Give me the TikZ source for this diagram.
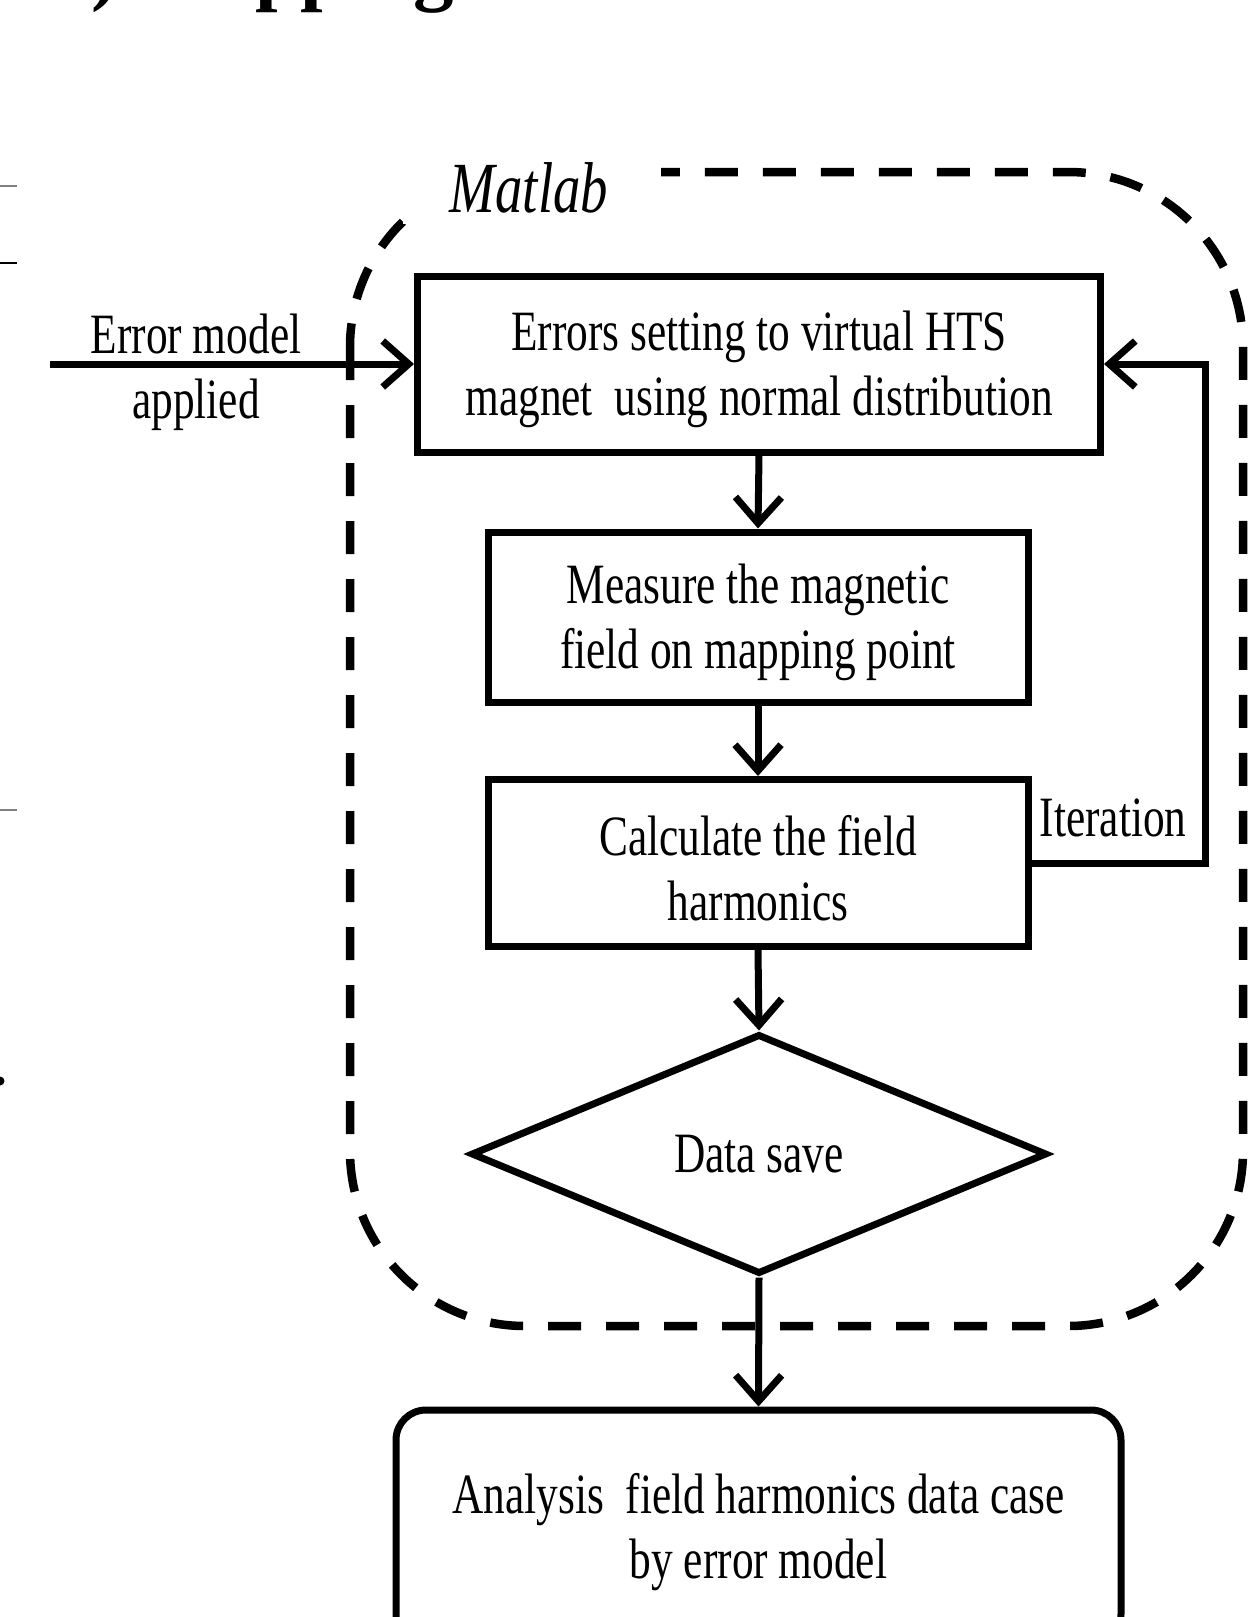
\documentclass[tikz,border=0pt]{standalone}
\usepackage{fontspec}
\setmainfont{Liberation Serif}[FakeStretch=0.76]
\newfontfamily\fragfont{Liberation Serif}
\usetikzlibrary{arrows.meta,shapes.geometric}
\begin{document}
\begin{tikzpicture}[x=1pt,y=-1pt,
  txt/.style={font=\fontsize{57}{65}\selectfont, align=center, inner sep=0pt},
  procbox/.style={draw, line width=7pt, inner sep=0pt},
  boxtext/.style={label={[txt, yshift=-5pt]center:{#1}}},
  flow/.style={line width=7pt, -{Straight Barb[length=26pt,width=46pt]}},
  frame/.style={line width=8.5pt, dash pattern=on 33pt off 25pt, rounded corners=175pt},
  frag/.style={line width=2.5pt, gray}]
\useasboundingbox (0,0) rectangle (1248,1617);
\clip (0,0) rectangle (1248,1617);

% fragment of a cropped heading and table at the edges
\node[anchor=base west, inner sep=0pt, font=\fragfont\bfseries\fontsize{81}{90}\selectfont] (head) at (91,-4.6) {) Mapping};
\draw[frag] (0,186) -- (17,186);
\draw[line width=2pt] (0,263) -- (17,263);
\draw[frag] (0,810) -- (17,810);
\fill (0,1081) circle (4.5pt);

% Matlab frame
\draw[frame] (350,172) rectangle (1243,1326);
\node[fill=white, minimum width=258pt, minimum height=72pt, inner sep=0pt,
      font=\itshape\fontsize{72}{80}\selectfont] (matlab) at (532,188) {};
\node[font=\itshape\fontsize{72}{80}\selectfont, inner sep=0pt] (matlabtxt) at (529,188) {Matlab};

% process nodes
\node[procbox, minimum width=683pt, minimum height=176pt,
  boxtext={Errors setting to virtual HTS\\magnet~ using normal distribution}] (b1) at (759,364) {};
\node[procbox, minimum width=540pt, minimum height=170pt,
  boxtext={Measure the magnetic\\field on mapping point}] (b2) at (758,617) {};
\node[procbox, minimum width=540pt, minimum height=167pt,
  boxtext={Calculate the field\\harmonics}] (b3) at (758,863) {};
\node[txt, draw, line width=7pt, diamond, minimum width=576pt, minimum height=240pt] (ds) at (759,1154)
  {Data save};
\node[procbox, rounded corners=30pt, minimum width=725pt, minimum height=234pt,
  boxtext={Analysis~ field harmonics data case\\by error model}] (an) at (758.5,1527) {};

% labels
\node[txt] (err) at (196,372) {Error model\\applied};
\node[txt] (iter) at (1113,818) {Iteration};
\coordinate (start) at (50,364);

% connectors
\draw[flow] (start) -- (b1.west);
\draw[flow] (b1.south) -- (b2.north);
\draw[flow] (b2.south) -- (b3.north);
\draw[flow] (b3.south) -- (ds.north);
\draw[flow] (ds.south) -- (an.north);
\draw[flow] (b3.east) -- ++(174,0) |- (b1.east);
\end{tikzpicture}
\end{document}
